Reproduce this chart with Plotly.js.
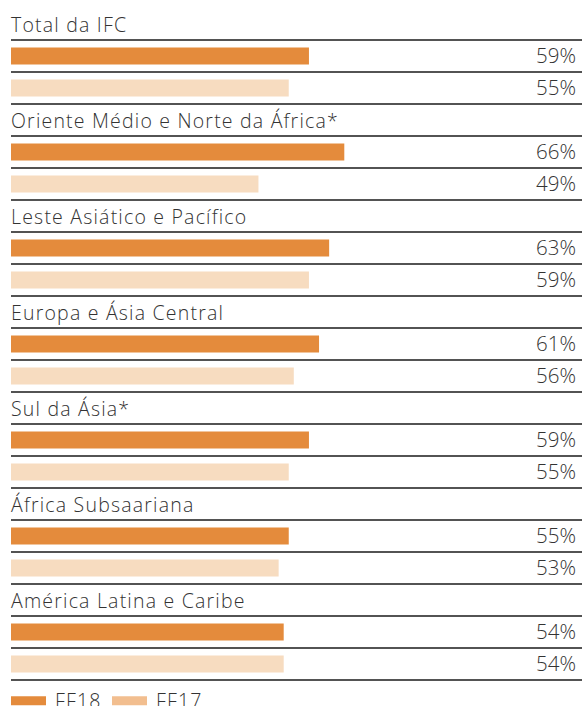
<!DOCTYPE html>
<html><head><meta charset="utf-8">
<script src="https://cdn.plot.ly/plotly-3.0.1.min.js"></script>
<style>html,body{margin:0;padding:0;background:#fff;}#chart{width:582px;height:706px;}</style>
</head><body><div id="chart"></div>
<script>
const categories = ["Total da IFC","Oriente Médio e Norte da África*","Leste Asiático e Pacífico","Europa e Ásia Central","Sul da Ásia*","África Subsaariana","América Latina e Caribe"];
const seriesNames = ["FF18","FF17"];
const ff18 = [59,66,63,61,59,55,54];
const ff17 = [55,49,59,56,55,53,54];

const barColors = ["#E48B3C","#F7DCC0"];
const legendColors = ["#E48B3C","#F2BE8F"];
const FONT = "'Open Sans', Lato, sans-serif";
const textColor = "#333333";

const series = [ff18, ff17];
const rowOf = (i, j) => i*3 + 1 + j;

const traces = series.map((vals, j) => ({
  type: "bar", orientation: "h", name: seriesNames[j],
  x: vals, y: vals.map((v, i) => rowOf(i, j)),
  width: 0.53, marker: {color: barColors[j]},
  hoverinfo: "skip", showlegend: false
}));

const annotations = [];
const shapes = [];
const titleFont = {family: FONT, size: 19.5, color: textColor, weight: 300};
const valFont = {family: FONT, size: 20.5, color: textColor, weight: 300};
const spaced = (t, s) => '<span style="letter-spacing:' + s + 'px">' + t + '</span>';
categories.forEach((c, i) => {
  annotations.push({x: 0, xref: "paper", y: i*3, yref: "y", text: spaced(c, 1.2), showarrow: false, borderpad: 0,
    xanchor: "left", yanchor: "middle", xshift: -1, font: titleFont});
  series.forEach((vals, j) => {
    annotations.push({x: 1, xref: "paper", y: rowOf(i, j), yref: "y", text: vals[i] + "%",
      showarrow: false, borderpad: 0, xanchor: "right", yanchor: "middle", xshift: -5, yshift: 1,
      font: valFont});
  });
});
const nRows = categories.length * 3;
for (let k = 0; k < nRows; k++) {
  shapes.push({type: "line", xref: "paper", x0: 0, x1: 1, yref: "y", y0: k + 0.5, y1: k + 0.5,
    line: {color: "#1a1a1a", width: 1.5}});
}
// legend
const legY = nRows + 0.15;
const legX = [0, 101];
seriesNames.forEach((n, j) => {
  shapes.push({type: "rect", xref: "paper", x0: legX[j]/571, x1: (legX[j]+35)/571,
    yref: "y", y0: legY - 0.14, y1: legY + 0.14, line: {width: 0}, fillcolor: legendColors[j]});
  annotations.push({x: (legX[j]+43)/571, xref: "paper", y: legY, yref: "y", text: spaced(n, 1.2), showarrow: false,
    borderpad: 0, xanchor: "left", yanchor: "middle", font: titleFont});
});

const layout = {
  width: 582, height: 706,
  margin: {l: 11, r: 0, t: 0, b: 0},
  paper_bgcolor: "#fff", plot_bgcolor: "#fff",
  barmode: "overlay",
  xaxis: {range: [0, 113.07], visible: false, fixedrange: true},
  yaxis: {range: [21.3125, -0.75], visible: false, fixedrange: true},
  annotations, shapes, showlegend: false
};
Plotly.newPlot("chart", traces, layout, {displayModeBar: false, staticPlot: true});
</script></body></html>
